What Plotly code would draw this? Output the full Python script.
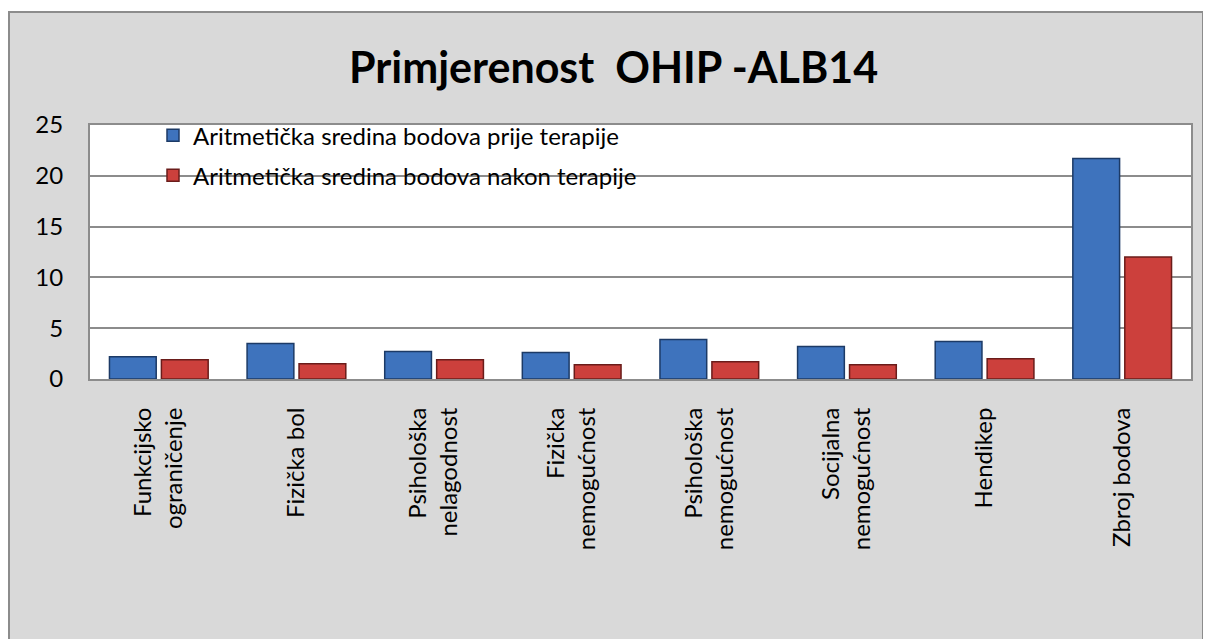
import plotly.graph_objects as go

categories = [
    "Funkcijsko<br>ograničenje",
    "Fizička bol",
    "Psihološka<br>nelagodnost",
    "Fizička<br>nemogućnost",
    "Psihološka<br>nemogućnost",
    "Socijalna<br>nemogućnost",
    "Hendikep",
    "Zbroj bodova",
]
before_values = [2.2, 3.5, 2.7, 2.6, 3.9, 3.2, 3.7, 21.7]
after_values = [1.9, 1.5, 1.9, 1.4, 1.7, 1.4, 2.0, 12.0]
series_names = [
    "Aritmetička sredina bodova prije terapije",
    "Aritmetička sredina bodova nakon terapije",
]
y_ticks = [0, 5, 10, 15, 20, 25]

FONT = "Lato, Carlito, 'Open Sans', sans-serif"

# layout geometry (pixels inside the figure)
L, R, T, B = 82, 28, 117, 268
PW, PH = 1211 - L - R, 639 - T - B


def px_x(v):
    return (v - L) / PW


def px_y(v):
    return (639 - B - v) / PH


fig = go.Figure()
fig.add_trace(go.Bar(
    x=categories, y=before_values, name=series_names[0], legendgroup="a",
    marker=dict(color="#3e73bd", line=dict(color="#1c3a66", width=1.5)),
))
fig.add_trace(go.Bar(
    x=categories, y=after_values, name=series_names[1], legendgroup="b",
    marker=dict(color="#cc403c", line=dict(color="#6a1c1a", width=1.5)),
))

fig.update_layout(
    width=1211, height=639,
    margin=dict(l=L, r=R, t=T, b=B),
    paper_bgcolor="white",
    plot_bgcolor="white",
    font=dict(family=FONT, size=24, color="black"),
    title=dict(
        text="<b>Primjerenost  OHIP -ALB14</b>",
        x=0.5, xanchor="center", xref="container",
        y=(639 - 60) / 639, yanchor="middle",
        font=dict(family=FONT, size=43, color="black"),
    ),
    barmode="group", bargap=0.245, bargroupgap=0.1,
    showlegend=True,
    legend=dict(
        x=px_x(145), y=1.047, xanchor="left", yanchor="top",
        bgcolor="rgba(0,0,0,0)", tracegroupgap=6,
        traceorder="grouped",
        font=dict(family=FONT, size=24, color="black"),
    ),
    shapes=[
        dict(
            type="rect", xref="paper", yref="paper", layer="below",
            x0=px_x(1), x1=px_x(1195),
            y0=px_y(700), y1=px_y(4),
            fillcolor="#d9d9d9", line=dict(color="#8c8c8c", width=2),
        ),
        dict(
            type="rect", xref="paper", yref="paper", layer="below",
            x0=0, x1=1, y0=0, y1=1,
            fillcolor="white", line=dict(width=0),
        ),
    ],
)
fig.update_xaxes(
    showline=True, mirror=True, linecolor="#8c8c8c", linewidth=2,
    tickangle=-90, ticks="", ticklabelstandoff=17,
    tickfont=dict(family=FONT, size=24, color="black"),
)
fig.update_yaxes(
    range=[0, 25], tickvals=y_ticks,
    showline=True, mirror=True, linecolor="#8c8c8c", linewidth=2,
    showgrid=True, gridcolor="#8c8c8c", gridwidth=2,
    zeroline=False, ticks="", ticklabelstandoff=20,
    tickfont=dict(family=FONT, size=24, color="black"),
)

fig.write_html("out.html")
